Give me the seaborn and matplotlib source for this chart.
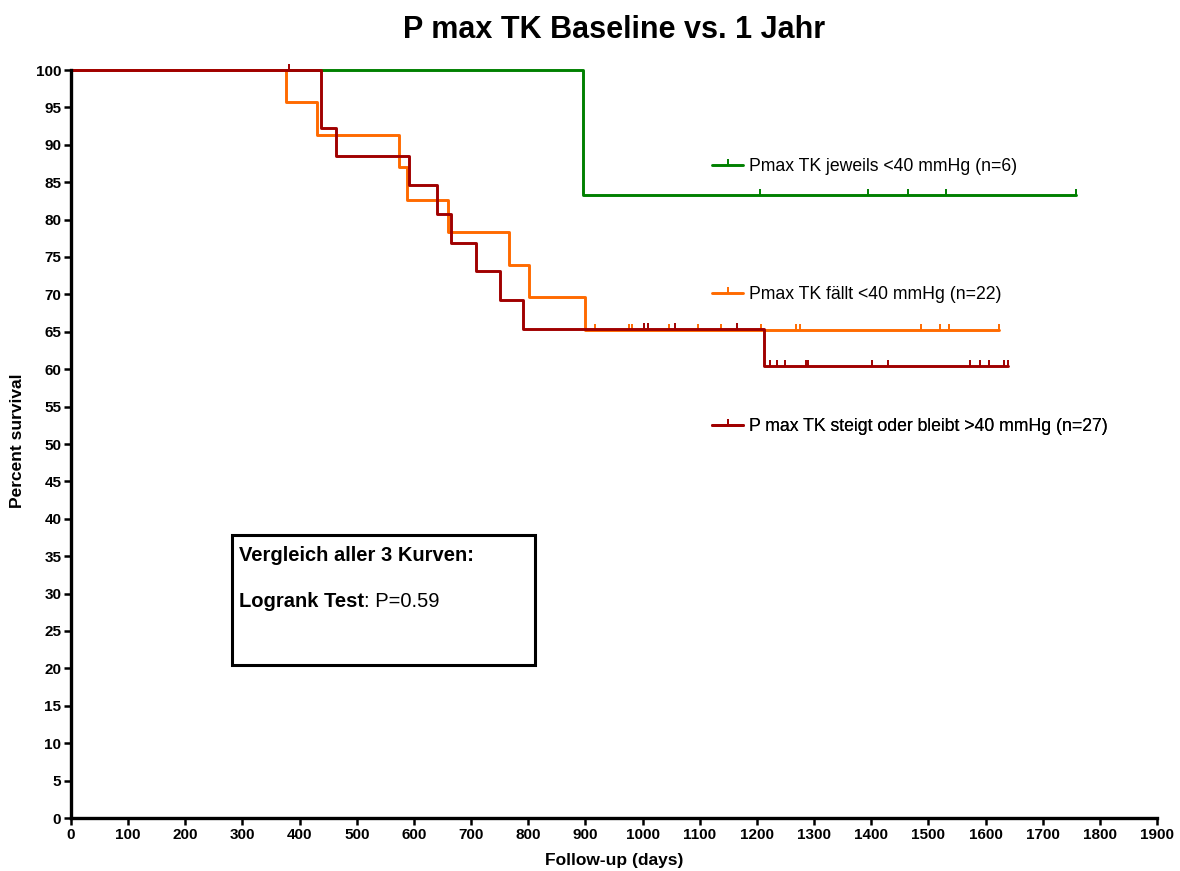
import numpy as np
import pandas as pd
import matplotlib
matplotlib.use("Agg")
import matplotlib.pyplot as plt
from matplotlib.lines import Line2D
from matplotlib.patches import Rectangle
import seaborn as sns

# ---------------- data ----------------
groups = ["Pmax TK jeweils <40 mmHg (n=6)",
          "Pmax TK fällt <40 mmHg (n=22)",
          "P max TK steigt oder bleibt >40 mmHg (n=27)"]

green_times = [0, 896]
green_surv = [100, 83.3]
green_end = 1758
green_censor = [1205, 1394, 1465, 1530, 1758]

orange_times = [0, 376, 430, 573, 588, 660, 766, 801, 899]
orange_surv = [100, 95.7, 91.3, 87.0, 82.6, 78.3, 73.9, 69.6, 65.2]
orange_end = 1624
orange_censor = [917, 977, 982, 1046, 1097, 1138, 1208, 1268, 1275,
                 1487, 1521, 1536, 1624]

red_times = [0, 437, 464, 591, 641, 664, 709, 751, 791, 1212]
red_surv = [100, 92.3, 88.5, 84.6, 80.8, 76.9, 73.1, 69.2, 65.4, 60.4]
red_end = 1639
red_censor = [382, 1003, 1010, 1056, 1166, 1223, 1236, 1249, 1286, 1290,
              1401, 1429, 1572, 1590, 1606, 1633, 1639]

x_ticks = list(range(0, 2000, 100))
y_ticks = list(range(0, 105, 5))

colors = ["#008000", "#ff6a00", "#a00000"]

# ---------------- build tables ----------------
series = [
    (groups[0], green_times, green_surv, green_end, green_censor),
    (groups[1], orange_times, orange_surv, orange_end, orange_censor),
    (groups[2], red_times, red_surv, red_end, red_censor),
]
rows = []
cens_rows = []
for g, t, s, e, c in series:
    tt = list(t) + [e]
    ss = list(s) + [s[-1]]
    for a, b in zip(tt, ss):
        rows.append({"time": a, "surv": b, "group": g})
    t_arr = np.asarray(t)
    s_arr = np.asarray(s)
    for ct in c:
        idx = np.searchsorted(t_arr, ct, side="right") - 1
        cens_rows.append({"time": ct, "surv": s_arr[idx], "group": g})
df = pd.DataFrame(rows)
cdf = pd.DataFrame(cens_rows)
palette = dict(zip(groups, colors))

# ---------------- plot ----------------
sns.set_style("ticks")
plt.rcParams["font.family"] = ["Liberation Sans", "DejaVu Sans"]
plt.rcParams["text.color"] = "black"
plt.rcParams["axes.labelcolor"] = "black"
plt.rcParams["xtick.color"] = "black"
plt.rcParams["ytick.color"] = "black"

fig = plt.figure(figsize=(11.8, 8.71), dpi=100)
ax = fig.add_axes([71 / 1180, 1 - 818 / 871, 1086 / 1180, 748 / 871])

for g in groups:
    sub = df[df["group"] == g]
    sns.lineplot(data=sub, x="time", y="surv", color=palette[g],
                 drawstyle="steps-post", estimator=None, sort=False,
                 lw=2.1, ax=ax, clip_on=False, legend=False)
    csub = cdf[cdf["group"] == g]
    ax.plot(csub["time"], csub["surv"], ls="none", marker=2, markersize=4,
            mew=1.4, color=palette[g], clip_on=False)

ax.set_xlim(0, 1900)
ax.set_ylim(0, 100)
ax.set_xticks(x_ticks)
ax.set_yticks(y_ticks)
ax.set_xticklabels([str(v) for v in x_ticks])
ax.set_yticklabels([str(v) for v in y_ticks])
for lab in ax.get_xticklabels() + ax.get_yticklabels():
    lab.set_fontweight("bold")
    lab.set_fontsize(11)
    lab.set_color("black")
ax.tick_params(axis="both", direction="out", length=5, width=1.8,
               color="black", pad=2)
sns.despine(ax=ax)
for sp in ["left", "bottom"]:
    ax.spines[sp].set_linewidth(2.4)
    ax.spines[sp].set_color("black")
ax.set_xlabel("")
ax.set_ylabel("")

fig.text(614 / 1180, 1 - 860 / 871, "Follow-up (days)", ha="center",
         va="center", fontsize=12.5, fontweight="bold", color="black")
fig.text(18 / 1180, 1 - 441 / 871, "Percent survival", ha="center",
         va="center", rotation=90, fontsize=12.5, fontweight="bold",
         color="black")
fig.text(614 / 1180, 1 - 30 / 871, "P max TK Baseline vs. 1 Jahr",
         ha="center", va="center", fontsize=22, fontweight="bold",
         color="black")

# legends (one per entry, placed like the reference)
leg_y = [0.8707, 0.6992, 0.5231]
for g, c, yy in zip(groups, colors, leg_y):
    h = Line2D([], [], color=c, lw=2.1, marker=2, markersize=4, mew=1.4)
    leg = ax.legend([h], [g], loc="center left", bbox_to_anchor=(0.590, yy),
                    frameon=False, borderpad=0, borderaxespad=0,
                    handlelength=1.8, handletextpad=0.3, fontsize=12.7,
                    numpoints=1, labelcolor="black")
    ax.add_artist(leg)

# annotation box
ax.add_patch(Rectangle((0.148, 0.2045), 0.2793, 0.1738, transform=ax.transAxes,
                       fill=False, lw=2.2, edgecolor="black", zorder=5))
ax.text(0.1547, 0.3507, "Vergleich aller 3 Kurven:", transform=ax.transAxes,
        ha="left", va="center", fontsize=14.5, fontweight="bold",
        color="black")
t1 = ax.text(0.1547, 0.2888, "Logrank Test", transform=ax.transAxes,
             ha="left", va="center", fontsize=14.5, fontweight="bold",
             color="black")
ax.annotate(": P=0.59", xy=(1, 0), xycoords=t1, ha="left", va="bottom",
            fontsize=14.5, color="black")

fig.savefig("out.png", dpi=100)
